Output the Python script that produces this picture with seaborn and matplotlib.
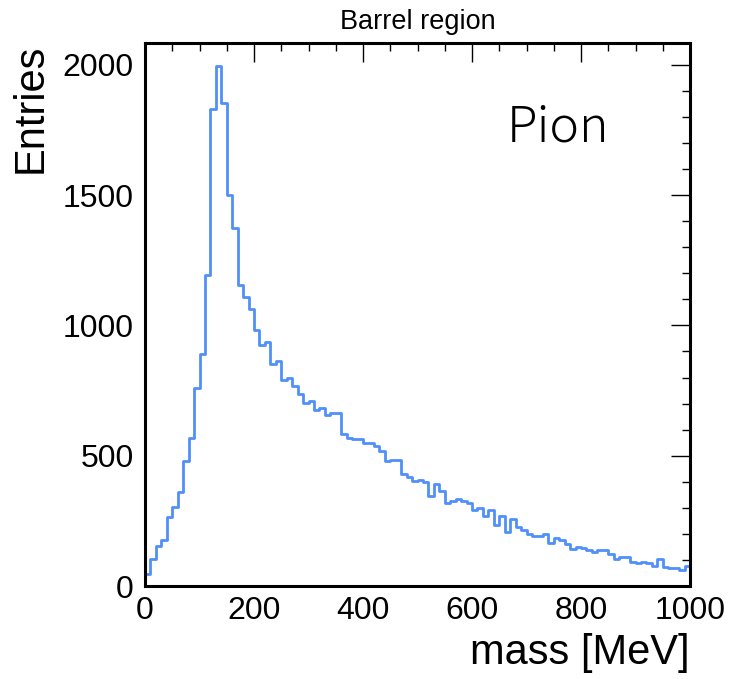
import numpy as np
import pandas as pd
import matplotlib
matplotlib.use("Agg")
import matplotlib.pyplot as plt
from matplotlib.ticker import MultipleLocator
import seaborn as sns

# ---- data ----
bin_edges = np.arange(0, 1001, 10)
counts = [
    45, 102, 152, 175, 266, 302, 359, 478, 569, 760,
    890, 1193, 1831, 1995, 1852, 1500, 1374, 1157, 1109, 1062,
    982, 925, 935, 851, 864, 792, 797, 767, 735, 703,
    709, 677, 682, 658, 664, 664, 583, 568, 564, 564,
    549, 549, 536, 517, 478, 485, 485, 430, 417, 404,
    408, 398, 344, 392, 363, 320, 328, 335, 328, 318,
    292, 301, 270, 290, 235, 267, 209, 256, 228, 215,
    200, 192, 192, 199, 166, 184, 177, 160, 142, 151,
    147, 138, 132, 138, 138, 123, 104, 110, 110, 94,
    90, 91, 87, 78, 104, 74, 68, 71, 62, 77,
]
title = "Barrel region"
xlabel = "mass [MeV]"
ylabel = "Entries"
tag = "Pion"

df = pd.DataFrame({"mass": (bin_edges[:-1] + bin_edges[1:]) / 2.0, "n": counts})

sns.set_style("white")
plt.rcParams["font.family"] = ["Liberation Sans", "DejaVu Sans"]
plt.rcParams["text.color"] = "black"
plt.rcParams["xtick.color"] = "black"
plt.rcParams["ytick.color"] = "black"
plt.rcParams["axes.labelcolor"] = "black"

W, H = 736, 679
fig = plt.figure(figsize=(W / 100, H / 100), dpi=100)
L, R, T, B = 145, 690, 43, 586
ax = fig.add_axes([L / W, 1 - B / H, (R - L) / W, (B - T) / H])

sns.histplot(data=df, x="mass", weights="n", binwidth=10, binrange=(0, 1000),
             element="step", fill=False, color="#5090f8", linewidth=2.0, ax=ax)

ax.set_xlim(0, 1000)
ax.set_ylim(0, 2084)
ax.set_xlabel("")
ax.set_ylabel("")

ax.xaxis.set_major_locator(MultipleLocator(200))
ax.xaxis.set_minor_locator(MultipleLocator(50))
ax.yaxis.set_major_locator(MultipleLocator(500))
ax.yaxis.set_minor_locator(MultipleLocator(100))
ax.tick_params(which="both", direction="in", top=True, right=True,
               color="black", labelcolor="black", width=1.0, labelsize=23)
ax.tick_params(which="major", length=13.5)
ax.tick_params(which="minor", length=6)
ax.tick_params(axis="x", pad=7)
ax.tick_params(axis="y", pad=8)
for s in ax.spines.values():
    s.set_visible(True)
    s.set_linewidth(2.2)
    s.set_color("black")

fig.text(418 / W, 1 - 22 / H, title, ha="center", va="center", fontsize=19.5)
fig.text(690 / W, 1 - 664 / H, xlabel, ha="right", va="baseline", fontsize=30)
fig.text(31 / W, 1 - 44 / H, ylabel, ha="center", va="top", rotation=90, fontsize=30)
ax.text(0.758, 0.818, tag, transform=ax.transAxes, ha="center", va="baseline",
        fontsize=36, fontweight="light", family=["Noto Sans CJK JP", "DejaVu Sans"])

fig.savefig("out.png", dpi=100)
